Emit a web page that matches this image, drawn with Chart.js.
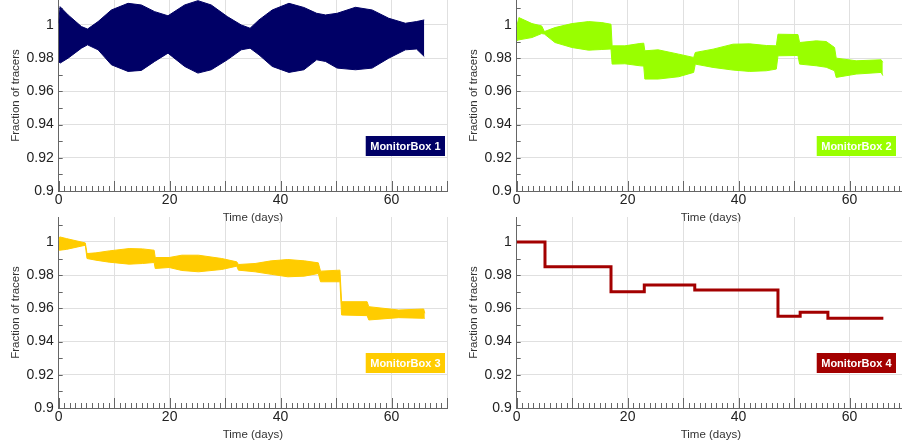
<!DOCTYPE html>
<html>
<head>
<meta charset="utf-8">
<script src="https://cdn.jsdelivr.net/npm/chart.js@4.4.0/dist/chart.umd.min.js"></script>
<style>
  html, body { margin: 0; padding: 0; background: #fff; overflow: hidden; }
  body { width: 902px; height: 443px; position: relative; }
  canvas { position: absolute; }
</style>
</head>
<body>
<canvas id="box1" width="451" height="226" style="left:0;top:0"></canvas>
<canvas id="box2" width="451" height="226" style="left:458px;top:0"></canvas>
<canvas id="box3" width="451" height="226" style="left:0;top:217px"></canvas>
<canvas id="box4" width="451" height="226" style="left:458px;top:217px"></canvas>
<script>
// Tick labels
const yTicks = [0.9, 0.92, 0.94, 0.96, 0.98, 1];
const yLabels = ["0.9", "0.92", "0.94", "0.96", "0.98", "1"];
const xLabels = [0, 20, 40, 60];

// MonitorBox 1: upper / lower envelope of the tidal band
const days1 = [0, 0.25, 1.7, 4.1, 5.2, 7.1, 9.5, 12.5, 14.9, 17.3, 19.7, 22.7, 25.1, 27.5, 30.4,
  32.9, 34.5, 36.1, 38.5, 41.5, 44.2, 46.5, 48.1, 50.2, 53.5, 56.5, 59.5, 62.5, 64.5, 65.9];
const upper1 = [1.001, 1.011, 1.006, 0.999, 0.9975, 1.002, 1.009, 1.013, 1.012, 1.008, 1.0055, 1.012, 1.0146, 1.012, 1.005,
  1.0, 0.998, 1.003, 1.009, 1.013, 1.0105, 1.007, 1.006, 1.007, 1.0106, 1.009, 1.004, 1.001, 1.002, 1.003];
const lower1 = [0.978, 0.977, 0.980, 0.986, 0.988, 0.985, 0.976, 0.972, 0.9726, 0.978, 0.983, 0.975, 0.971, 0.973, 0.979,
  0.985, 0.986, 0.982, 0.975, 0.9714, 0.973, 0.979, 0.978, 0.974, 0.973, 0.974, 0.980, 0.985, 0.9855, 0.981];

// MonitorBox 2
const days2 = [0, 0.4, 2.75, 4.5, 5.0, 6.9, 9.95, 12.95, 15.35, 17.0, 17.2, 19.5, 22.2, 22.9, 23.1, 25.5, 29.2,
  31.9, 32.2, 35.4, 39.0, 42.0, 45.0, 46.8, 47.1, 50.7, 51.0, 54.0, 55.8, 57.3, 57.6, 61.2, 65.7, 66.0];
const upper2 = [0.999, 1.0044, 1.0008, 0.9994, 0.996, 0.9984, 1.0008, 1.002, 1.0014, 1.0004, 0.9874, 0.9874, 0.9888, 0.989, 0.9844, 0.985, 0.9824,
  0.9804, 0.9834, 0.9854, 0.9884, 0.9886, 0.9876, 0.9874, 0.9944, 0.9942, 0.9894, 0.9904, 0.990, 0.9864, 0.980, 0.9784, 0.979, 0.9775];
const lower2 = [0.9905, 0.991, 0.9924, 0.9948, 0.9945, 0.9894, 0.9864, 0.9848, 0.9852, 0.9855, 0.9764, 0.9766, 0.9754, 0.9752, 0.9674, 0.9674, 0.9688,
  0.9714, 0.9764, 0.9744, 0.9728, 0.972, 0.9724, 0.9734, 0.9814, 0.9816, 0.9764, 0.9754, 0.9745, 0.9724, 0.9684, 0.9704, 0.9714, 0.9695];

// MonitorBox 3
const days3 = [0, 0.2, 1.4, 4.8, 5.1, 6.7, 9.1, 12.7, 15.1, 17.2, 17.4, 19.9, 22.2, 25.2, 29.4, 32.1, 32.4,
  35.4, 38.3, 41.3, 44.3, 46.8, 47.2, 50.7, 51.0, 55.6, 55.9, 61.3, 65.8, 66.0];
const upper3 = [1.001, 1.003, 1.002, 0.9994, 0.993, 0.9934, 0.9946, 0.996, 0.9958, 0.995, 0.9906, 0.9906, 0.992, 0.992, 0.990, 0.988, 0.9864,
  0.987, 0.9886, 0.9894, 0.9886, 0.9874, 0.9824, 0.983, 0.964, 0.964, 0.961, 0.959, 0.9596, 0.957];
const lower3 = [0.995, 0.995, 0.9955, 0.998, 0.990, 0.989, 0.9878, 0.9866, 0.987, 0.9876, 0.984, 0.9846, 0.9828, 0.982, 0.9834, 0.9854, 0.983,
  0.982, 0.9805, 0.979, 0.9794, 0.981, 0.976, 0.976, 0.956, 0.9556, 0.953, 0.9544, 0.954, 0.954];

// MonitorBox 4: step changes (day the new level starts, level)
const days4 = [0, 5.1, 17.0, 23.0, 32.1, 47.1, 51.1, 56.1, 66.1];
const level4 = [1, 0.985, 0.970, 0.974, 0.971, 0.9552, 0.9576, 0.954, 0.954];

function pts(xs, ys) {
  return xs.map((d, i) => ({ x: d, y: ys[i] }));
}

// small ticks on the inside of both axes
const axisTicks = {
  id: 'axisTicks',
  beforeDatasetsDraw(chart) {
    const { ctx, chartArea, scales: { x, y } } = chart;
    ctx.save();
    ctx.strokeStyle = '#666';
    ctx.lineWidth = 1;
    ctx.beginPath();
    for (let d = 0; d <= 70; d++) {
      const px = Math.round(x.getPixelForValue(d)) + 0.5;
      const len = d % 10 === 0 ? 10 : 5;
      ctx.moveTo(px, chartArea.bottom);
      ctx.lineTo(px, chartArea.bottom - len);
    }
    for (let i = 0; i <= 11; i++) {
      const py = Math.round(y.getPixelForValue(0.9 + i * 0.01)) + 0.5;
      ctx.moveTo(chartArea.left, py);
      ctx.lineTo(chartArea.left + 4, py);
    }
    ctx.stroke();
    ctx.restore();
  }
};

// coloured name box in the lower right corner
const nameBox = {
  id: 'nameBox',
  afterDraw(chart, args, opts) {
    const { ctx, chartArea, scales: { y } } = chart;
    ctx.save();
    ctx.font = 'bold 11px "Liberation Sans", Arial, sans-serif';
    const w = ctx.measureText(opts.text).width + 9;
    const right = chartArea.right - opts.inset;
    const bottom = Math.round(y.getPixelForValue(0.9208));
    ctx.fillStyle = opts.color;
    ctx.fillRect(right - w, bottom - 20, w, 20);
    ctx.fillStyle = '#fff';
    ctx.textAlign = 'center';
    ctx.textBaseline = 'middle';
    ctx.fillText(opts.text, right - w / 2, bottom - 9.5);
    ctx.restore();
  }
};

function makeChart(id, datasets, name, color, inset) {
  new Chart(id, {
    type: 'line',
    data: { datasets: datasets },
    plugins: [axisTicks, nameBox],
    options: {
      responsive: false,
      animation: false,
      layout: { padding: { left: 0, right: 4, top: 0, bottom: 0 } },
      plugins: {
        legend: { display: false },
        tooltip: { enabled: false },
        nameBox: { text: name, color: color, inset: inset }
      },
      scales: {
        x: {
          type: 'linear',
          min: 0,
          max: 70,
          afterFit: (s) => { s.height = 35; s.paddingLeft = 0; s.paddingRight = 0; },
          ticks: {
            stepSize: 10,
            padding: 1,
            color: '#222',
            font: { family: '"Liberation Sans", Arial, sans-serif', size: 14 },
            callback: (v) => xLabels.includes(v) ? String(v) : ''
          },
          grid: { color: '#e0e0e0', drawTicks: false },
          border: { color: '#666' },
          title: {
            display: true,
            text: 'Time (days)',
            color: '#333',
            padding: { top: 0, bottom: 1 },
            font: { family: '"Liberation Sans", Arial, sans-serif', size: 11.5 }
          }
        },
        y: {
          min: 0.9,
          max: 1.015,
          afterFit: (s) => { s.width = 58.7; s.paddingTop = 0; s.paddingBottom = 0; },
          afterBuildTicks: (s) => { s.ticks = yTicks.map(v => ({ value: v })); },
          ticks: {
            padding: 5,
            color: '#222',
            font: { family: '"Liberation Sans", Arial, sans-serif', size: 14 },
            callback: (v) => yLabels[yTicks.indexOf(v)]
          },
          grid: { color: '#e0e0e0', drawTicks: false },
          border: { color: '#666' },
          title: {
            display: true,
            text: 'Fraction of tracers',
            color: '#333',
            padding: { top: 9, bottom: 0 },
            font: { family: '"Liberation Sans", Arial, sans-serif', size: 11.5 }
          }
        }
      }
    }
  });
}

function band(days, upper, lower, color) {
  return [
    { data: pts(days, upper), borderColor: color, backgroundColor: color, borderWidth: 1, pointRadius: 0, fill: '+1' },
    { data: pts(days, lower), borderColor: color, backgroundColor: color, borderWidth: 1, pointRadius: 0, fill: false }
  ];
}

makeChart('box1', band(days1, upper1, lower1, '#000066'), 'MonitorBox 1', '#000066', 2);
makeChart('box2', band(days2, upper2, lower2, '#99ff00'), 'MonitorBox 2', '#99ff00', 9);
makeChart('box3', band(days3, upper3, lower3, '#ffcc00'), 'MonitorBox 3', '#ffcc00', 2);
makeChart('box4', [{
  data: pts(days4, level4), borderColor: '#a30000', borderWidth: 3, pointRadius: 0, stepped: true, fill: false
}], 'MonitorBox 4', '#a30000', 9);
</script>
</body>
</html>
